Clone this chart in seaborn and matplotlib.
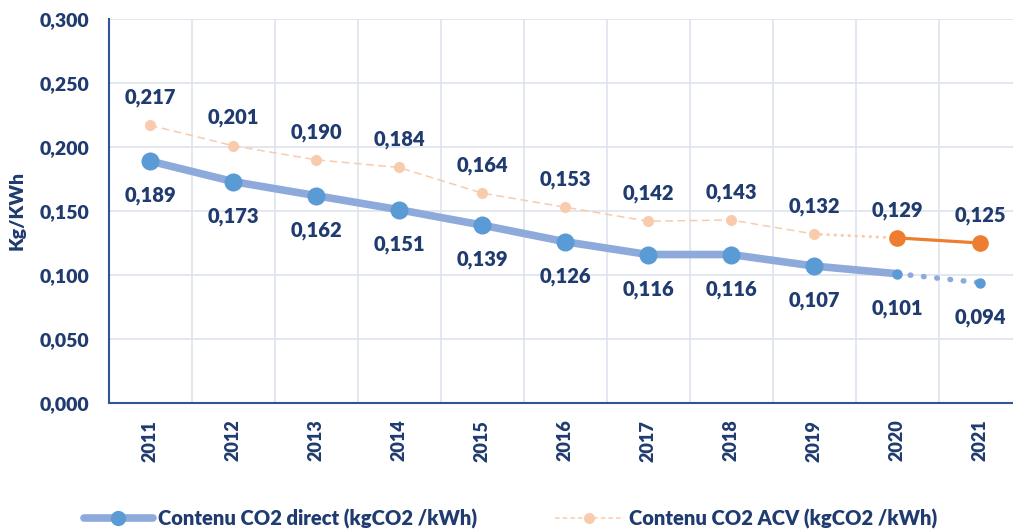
import numpy as np
import matplotlib
matplotlib.use("Agg")
import matplotlib.pyplot as plt
from matplotlib.lines import Line2D
from matplotlib.ticker import FixedLocator, FuncFormatter
import pandas as pd
import seaborn as sns

years = ['2011', '2012', '2013', '2014', '2015', '2016', '2017', '2018', '2019', '2020', '2021']
direct = [0.189, 0.173, 0.162, 0.151, 0.139, 0.126, 0.116, 0.116, 0.107, 0.101, 0.094]
acv = [0.217, 0.201, 0.190, 0.184, 0.164, 0.153, 0.142, 0.143, 0.132, 0.129, 0.125]

navy = '#1f3b6f'
blue_line = '#8eaadb'
blue_dot = '#5b9bd5'
orange_light = '#f8cbad'
orange = '#ed7d31'
fam = ['Lato', 'DejaVu Sans']
wt = 'heavy'

sns.set_theme(style="white")
plt.rcParams['font.family'] = fam

df = pd.DataFrame({'x': np.arange(len(years)), 'year': years, 'direct': direct, 'acv': acv})

fig = plt.figure(figsize=(10.13, 5.32), dpi=100)
ax = fig.add_axes([108.5 / 1013, 1 - 403 / 532, (1021.5 - 108.5) / 1013, (403 - 19) / 532])

# ACV series: thin dashed up to 2019, dotted to 2020, solid orange 2020-2021
a1 = df.iloc[:9]
sns.lineplot(data=a1, x='x', y='acv', ax=ax, color=orange_light, lw=1.1, linestyle=(0, (5, 3)),
             marker='o', markersize=8, markeredgewidth=0, markerfacecolor=orange_light)
a2 = df.iloc[8:10]
ax.plot(a2['x'], a2['acv'], color=orange_light, lw=2.2, linestyle=(0, (0.1, 2.2)),
        dash_capstyle='round', zorder=2)
a3 = df.iloc[9:]
sns.lineplot(data=a3, x='x', y='acv', ax=ax, color=orange, lw=2.3,
             marker='o', markersize=12, markeredgewidth=0, markerfacecolor=orange)

# direct series: thick line to 2020, dotted to 2021
d1 = df.iloc[:10]
ax.plot(d1['x'], d1['direct'], color=blue_line, lw=5.5, solid_capstyle='butt', zorder=3)
sns.lineplot(data=df.iloc[:9], x='x', y='direct', ax=ax, lw=0, marker='o', markersize=13,
             markeredgewidth=0, markerfacecolor=blue_dot, zorder=4)
d2 = df.iloc[9:]
ax.plot(d2['x'], d2['direct'], color=blue_line, lw=4, linestyle=(0, (0.1, 2.3)),
        dash_capstyle='round', zorder=3)
ax.plot(d2['x'], d2['direct'], lw=0, marker='o', markersize=7.5, markeredgewidth=0,
        markerfacecolor=blue_dot, zorder=4)

fmt = lambda v: f"{v:.3f}".replace('.', ',')
for i in range(len(years)):
    ax.annotate(fmt(acv[i]), (i, acv[i]), xytext=(0, 20), textcoords='offset points',
                ha='center', va='center', color=navy, fontsize=14.5, fontweight=wt)
    ax.annotate(fmt(direct[i]), (i, direct[i]), xytext=(0, -25), textcoords='offset points',
                ha='center', va='center', color=navy, fontsize=14.5, fontweight=wt)

ax.set_xlim(-0.5, len(years) - 0.5)
ax.set_ylim(0, 0.3)
ax.set_yticks(np.arange(0, 0.301, 0.05))
ax.yaxis.set_major_formatter(FuncFormatter(lambda v, p: fmt(v)))
ax.set_xticks(df['x'])
ax.set_xticklabels(years, rotation=90)
ax.xaxis.set_minor_locator(FixedLocator(np.arange(-0.5, len(years), 1.0)))
ax.tick_params(axis='x', which='major', length=0, pad=12, labelsize=13, labelcolor=navy)
ax.tick_params(axis='x', which='minor', length=5, width=1.3, color='#2f5597', direction='out')
ax.tick_params(axis='y', length=5, width=1.3, color='#2f5597', direction='out', labelsize=14,
               labelcolor=navy, pad=9)
for lab in ax.get_xticklabels() + ax.get_yticklabels():
    lab.set_fontweight(wt)

ax.grid(axis='y', which='major', color='#dde3ee', lw=1.2)
ax.grid(axis='x', which='minor', color='#dde3ee', lw=1.2)
ax.set_axisbelow(True)
for s in ['top', 'right']:
    ax.spines[s].set_visible(False)
for s in ['left', 'bottom']:
    ax.spines[s].set_color('#2f5597')
    ax.spines[s].set_linewidth(1.5)

ax.set_xlabel('')
ax.set_ylabel('Kg/KWh', color=navy, fontsize=14, fontweight=wt, labelpad=10)

handles = [
    Line2D([0], [0], color=blue_line, lw=5.5, marker='o', markersize=11,
           markerfacecolor=blue_dot, markeredgewidth=0),
    Line2D([0], [0], color=orange_light, lw=1.1, linestyle=(0, (3, 2)), marker='o', markersize=8,
           markerfacecolor=orange_light, markeredgewidth=0),
]
labels = ['Contenu CO2 direct (kgCO2 /kWh)', 'Contenu CO2 ACV (kgCO2 /kWh)']
leg = fig.legend(handles, labels, loc='center', bbox_to_anchor=(0.504, 1 - 519 / 532), ncol=2,
                 frameon=False, handlelength=3.4, columnspacing=3.9, handletextpad=0.25,
                 prop={'family': fam, 'weight': wt, 'size': 14.5})
for t in leg.get_texts():
    t.set_color(navy)

fig.savefig('out.png', dpi=100)
